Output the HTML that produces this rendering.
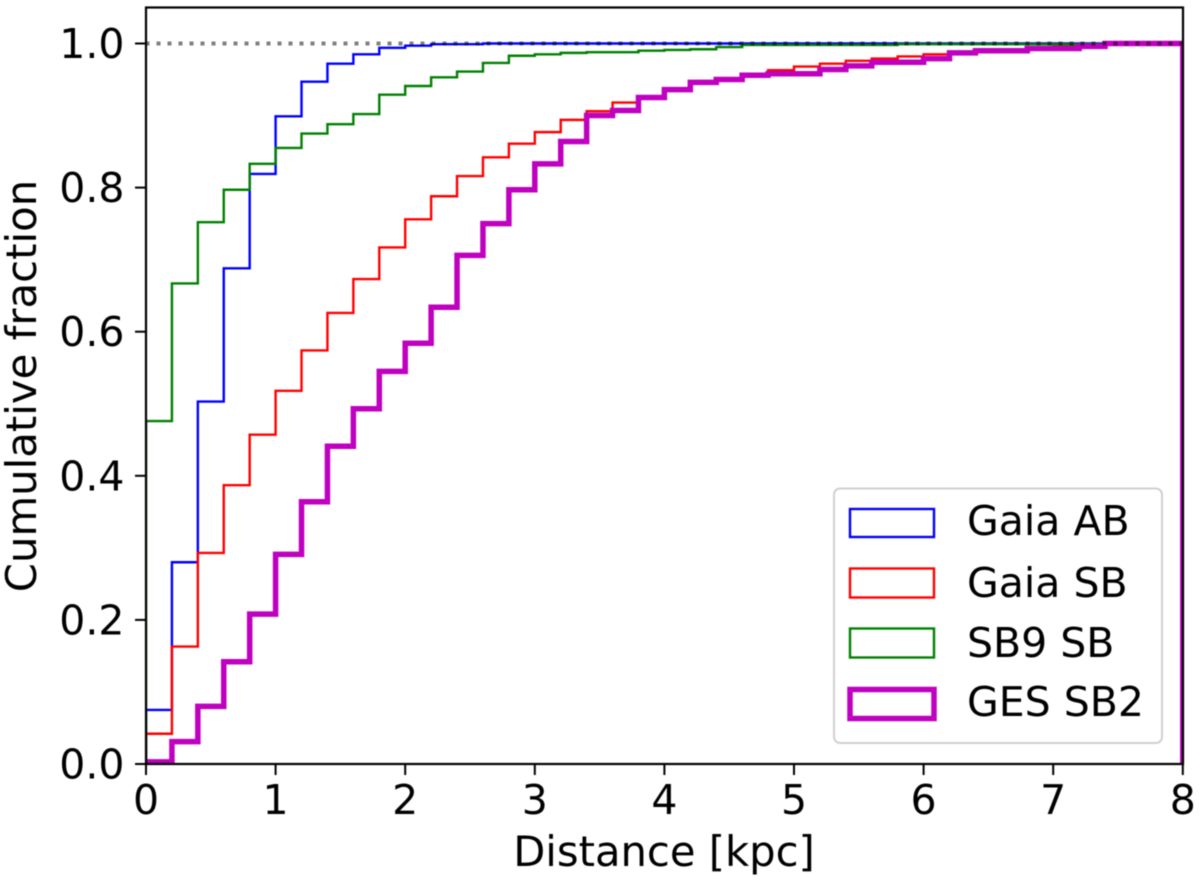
<!DOCTYPE html>
<html lang="en">
<head>
<meta charset="utf-8">
<title>Cumulative fraction vs distance</title>
<style>
html,body{margin:0;padding:0;background:#fff;width:1200px;height:880px;overflow:hidden}
svg{display:block;filter:blur(0.6px)}
text{font-family:"DejaVu Sans","Liberation Sans",sans-serif;fill:#000}
</style>
</head>
<body>
<svg id="chart" xmlns="http://www.w3.org/2000/svg" width="1200" height="880" viewBox="0 0 1200 880">
<rect x="0" y="0" width="1200" height="880" fill="#fff"/>
<defs><clipPath id="plot-clip"><rect x="146" y="7.5" width="1037" height="756.5"/></clipPath></defs>
<g id="series" clip-path="url(#plot-clip)"></g>
<line id="ref" stroke="#000" stroke-opacity="0.5" stroke-width="4" stroke-dasharray="4 7"/>
<g id="ticks"></g>
<rect x="146" y="7.5" width="1037" height="756.5" fill="none" stroke="#000" stroke-width="2.2"/>
<text x="664" y="866" font-size="41.7" text-anchor="middle">Distance [kpc]</text>
<text transform="translate(36,386) rotate(-90)" font-size="41.8" text-anchor="middle">Cumulative fraction</text>
<g>
<rect x="834" y="488.5" width="328" height="254.5" rx="6" fill="#fff" fill-opacity="0.8" stroke="#d0d0d0" stroke-width="2"/>
<rect x="850" y="509" width="84" height="28" fill="none" stroke="#0000ff" stroke-width="2.4"/>
<text x="967" y="535" font-size="41">Gaia AB</text>
<rect x="850" y="568.5" width="84" height="29" fill="none" stroke="#ff0000" stroke-width="2.4"/>
<text x="967" y="597" font-size="41">Gaia SB</text>
<rect x="850" y="628.5" width="84" height="29" fill="none" stroke="#008000" stroke-width="2.4"/>
<text x="967" y="657" font-size="41">SB9 SB</text>
<rect x="850" y="689.5" width="84" height="29" fill="none" stroke="#bf00bf" stroke-width="5.5"/>
<text x="967" y="716" font-size="41">GES SB2</text>
</g>
</svg>
<script>
const binWidth = 0.2;
const xTickValues = [0,1,2,3,4,5,6,7,8];
const yTickValues = [0,0.2,0.4,0.6,0.8,1];
const xTickLabels = ["0","1","2","3","4","5","6","7","8"];
const yTickLabels = ["0.0","0.2","0.4","0.6","0.8","1.0"];
const gaiaAB = [0.075,0.28,0.503,0.688,0.819,0.899,0.947,0.972,0.985,0.994,0.997,0.999,0.999,1,1,1,1,1,1,1,1,1,1,1,1,1,1,1,1,1,1,1,1,1,1,1,1,1,1,1];
const gaiaSB = [0.042,0.163,0.293,0.387,0.457,0.518,0.574,0.626,0.673,0.717,0.756,0.788,0.816,0.842,0.861,0.877,0.894,0.906,0.918,0.925,0.936,0.946,0.951,0.957,0.963,0.968,0.972,0.976,0.979,0.982,0.985,0.987,0.99,0.992,0.994,0.996,0.998,0.999,1,1];
const sb9SB = [0.476,0.667,0.752,0.797,0.833,0.855,0.875,0.888,0.902,0.929,0.941,0.953,0.961,0.973,0.983,0.985,0.987,0.988,0.988,0.99,0.991,0.992,0.995,0.998,0.998,0.998,0.998,0.998,0.998,0.999,0.999,0.999,0.999,0.999,0.999,0.999,0.999,0.999,1,1];
const gesSB2 = [0.003,0.031,0.08,0.142,0.208,0.291,0.364,0.441,0.493,0.545,0.584,0.634,0.706,0.75,0.797,0.833,0.864,0.9,0.907,0.925,0.936,0.946,0.95,0.956,0.958,0.958,0.964,0.969,0.974,0.974,0.979,0.987,0.99,0.99,0.993,0.993,0.996,1,1,1];

const NS = 'http://www.w3.org/2000/svg';
function xScale(v){ return 146 + v * 129.6; }
function yScale(v){ return 764 - v * 720.5; }

function stepPath(values){
  let d = 'M' + xScale(0) + ',' + yScale(0);
  values.forEach(function(v,i){
    d += 'L' + xScale(i*binWidth).toFixed(2) + ',' + yScale(v).toFixed(2);
    d += 'L' + xScale((i+1)*binWidth).toFixed(2) + ',' + yScale(v).toFixed(2);
  });
  d += 'L' + xScale(values.length*binWidth).toFixed(2) + ',' + yScale(0);
  return d;
}

const seriesGroup = document.getElementById('series');
function drawSeries(values, color, width, name){
  const p = document.createElementNS(NS,'path');
  p.setAttribute('d', stepPath(values));
  p.setAttribute('fill','none');
  p.setAttribute('stroke',color);
  p.setAttribute('stroke-width',width);
  p.setAttribute('stroke-linejoin','miter');
  
  
  seriesGroup.appendChild(p);
}
drawSeries(gaiaAB,'#0000ff',2.4,'series-gaia-ab');
drawSeries(gaiaSB,'#ff0000',2.4,'series-gaia-sb');
drawSeries(sb9SB,'#008000',2.4,'series-sb9-sb');
drawSeries(gesSB2,'#bf00bf',5.5,'series-ges-sb2');

const ref = document.getElementById('ref');
ref.setAttribute('x1', xScale(0)-0.5);
ref.setAttribute('x2', xScale(8));
ref.setAttribute('y1', yScale(1));
ref.setAttribute('y2', yScale(1));

const tickGroup = document.getElementById('ticks');
xTickValues.forEach(function(v,i){
  const l = document.createElementNS(NS,'line');
  l.setAttribute('x1', xScale(v));
  l.setAttribute('x2', xScale(v));
  l.setAttribute('y1', 764);
  l.setAttribute('y2', 775);
  l.setAttribute('stroke','#000');
  l.setAttribute('stroke-width',2);
  
  
  tickGroup.appendChild(l);
  const t = document.createElementNS(NS,'text');
  t.setAttribute('x', xScale(v));
  t.setAttribute('y', 814);
  t.setAttribute('font-size', 41);
  t.setAttribute('text-anchor','middle');
  
  
  t.textContent = xTickLabels[i];
  tickGroup.appendChild(t);
});
yTickValues.forEach(function(v,i){
  const l = document.createElementNS(NS,'line');
  l.setAttribute('x1', 135);
  l.setAttribute('x2', 146);
  l.setAttribute('y1', yScale(v));
  l.setAttribute('y2', yScale(v));
  l.setAttribute('stroke','#000');
  l.setAttribute('stroke-width',2);
  
  
  tickGroup.appendChild(l);
  const t = document.createElementNS(NS,'text');
  t.setAttribute('x', 124.5);
  t.setAttribute('y', yScale(v)+14.5);
  t.setAttribute('font-size', 41);
  t.setAttribute('text-anchor','end');
  
  
  t.textContent = yTickLabels[i];
  tickGroup.appendChild(t);
});
</script>
</body>
</html>
